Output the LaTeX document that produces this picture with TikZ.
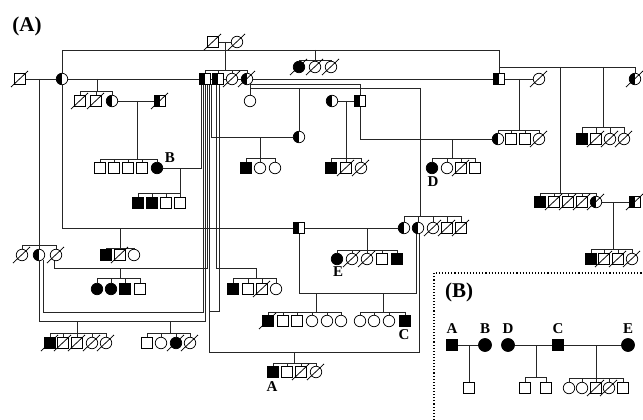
\documentclass[tikz,border=0pt]{standalone}
\usepackage{fontspec}
\setmainfont{Liberation Serif}
\usetikzlibrary{backgrounds}
\tikzset{
  sym/.style={draw=black, line width=0.75pt, fill=white, inner sep=0pt, outer sep=0pt},
  sqw/.style={sym, rectangle, minimum size=10.5pt},
  ciw/.style={sym, circle, minimum size=11.5pt},
  sqf/.style={sqw, fill=black},
  cif/.style={ciw, fill=black},
  sqh/.style={sqw, path picture={\fill[black] (path picture bounding box.south west) rectangle (path picture bounding box.north);}},
  cih/.style={ciw, path picture={\fill[black] (path picture bounding box.south west) rectangle (path picture bounding box.north);}},
  bsq/.style={sqf, minimum size=11pt},
  bci/.style={cif, minimum size=13pt},
  slashln/.style={draw=black, line width=0.75pt},
  lab/.style={font=\bfseries\fontsize{15}{15}\selectfont, inner sep=0pt},
  big/.style={font=\bfseries\fontsize{21}{21}\selectfont, inner sep=0pt},
  conn/.style={draw=black!85, line width=0.8pt}
}
\newcommand\sibs[4]{%
  \draw[conn] (#1,#2) -- (#1,#3);
  \foreach \nn in {#4}{\draw[conn] (\nn.north) -- (\nn.north |- #1,#3) -- (#1,#3);}
}
\begin{document}
\begin{tikzpicture}[x=1pt,y=-1pt]
\useasboundingbox (0,0) rectangle (643,420);
% ---------- nodes ----------
\node[sqw] (tA) at (213,42) {};
\node[ciw] (tB) at (237,42) {};
\node[sqw] (g1) at (20,79) {};
\node[cih] (g2) at (62,79) {};
\node[sqh] (s1) at (205,79) {};
\node[sqh] (s2) at (218,79) {};
\node[ciw] (s3) at (232,79) {};
\node[cih] (s4) at (247,79) {};
\node[sqh] (r1) at (499,79) {};
\node[ciw] (r2) at (539,79) {};
\node[cih] (r3) at (635,79) {};
\node[cif] (k1) at (299,67) {};
\node[ciw] (k2) at (315,67) {};
\node[ciw] (k3) at (331,67) {};
\node[sqw] (c1) at (80,101) {};
\node[sqw] (c2) at (96,101) {};
\node[cih] (c3) at (112,101) {};
\node[sqh] (h1) at (160,101) {};
\node[ciw] (w1) at (250,101) {};
\node[cih] (m1) at (332,101) {};
\node[sqh] (m2) at (360,101) {};
\node[cih] (q1) at (299,137) {};
\node[cih] (r4) at (498,139) {};
\node[sqw] (r5) at (511,139) {};
\node[sqw] (r6) at (525,139) {};
\node[ciw] (r7) at (539,139) {};
\node[sqf] (u1) at (582,139) {};
\node[sqw] (u2) at (596,139) {};
\node[ciw] (u3) at (610,139) {};
\node[ciw] (u4) at (624,139) {};
\node[sqw] (b1) at (100,168) {};
\node[sqw] (b2) at (114,168) {};
\node[sqw] (b3) at (128,168) {};
\node[sqw] (b4) at (142,168) {};
\node[cif] (bB) at (157,168) {};
\node[sqf] (p1) at (246,168) {};
\node[ciw] (p2) at (260,168) {};
\node[ciw] (p3) at (275,168) {};
\node[sqf] (m3) at (331,168) {};
\node[sqw] (m4) at (346,168) {};
\node[ciw] (m5) at (361,168) {};
\node[cif] (d1) at (432,168) {};
\node[ciw] (d2) at (447,168) {};
\node[sqw] (d3) at (461,168) {};
\node[sqw] (d4) at (475,168) {};
\node[sqf] (e1) at (138,203) {};
\node[sqf] (e2) at (152,203) {};
\node[sqw] (e3) at (166,203) {};
\node[sqw] (e4) at (180,203) {};
\node[sqf] (v1) at (540,202) {};
\node[sqw] (v2) at (554,202) {};
\node[sqw] (v3) at (568,202) {};
\node[sqw] (v4) at (582,202) {};
\node[cih] (v5) at (596,202) {};
\node[sqh] (v6) at (635,202) {};
\node[sqh] (H) at (299,228) {};
\node[cih] (z1) at (404,228) {};
\node[cih] (z2) at (418,228) {};
\node[ciw] (z3) at (433,228) {};
\node[sqw] (z4) at (447,228) {};
\node[sqw] (z5) at (461,228) {};
\node[ciw] (f1) at (22,255) {};
\node[cih] (f2) at (39,255) {};
\node[ciw] (f3) at (56,255) {};
\node[sqf] (x1) at (106,255) {};
\node[sqw] (x2) at (120,255) {};
\node[ciw] (x3) at (134,255) {};
\node[cif] (E1) at (337,259) {};
\node[ciw] (E2) at (352,259) {};
\node[ciw] (E3) at (367,259) {};
\node[sqw] (E4) at (382,259) {};
\node[sqf] (E5) at (397,259) {};
\node[sqf] (y1) at (591,259) {};
\node[sqw] (y2) at (604,259) {};
\node[sqw] (y3) at (618,259) {};
\node[ciw] (y4) at (632,259) {};
\node[cif] (i1) at (97,289) {};
\node[cif] (i2) at (111,289) {};
\node[sqf] (i3) at (125,289) {};
\node[sqw] (i4) at (140,289) {};
\node[sqf] (j1) at (233,289) {};
\node[sqw] (j2) at (248,289) {};
\node[sqw] (j3) at (262,289) {};
\node[ciw] (j4) at (276,289) {};
\node[sqf] (a1) at (268,321) {};
\node[sqw] (a2) at (283,321) {};
\node[sqw] (a3) at (297,321) {};
\node[ciw] (a4) at (312,321) {};
\node[ciw] (a5) at (327,321) {};
\node[ciw] (a6) at (341,321) {};
\node[ciw] (cc1) at (360,321) {};
\node[ciw] (cc2) at (374,321) {};
\node[ciw] (cc3) at (389,321) {};
\node[sqf] (cc4) at (405,321) {};
\node[sqf] (l1) at (50,343) {};
\node[sqw] (l2) at (63,343) {};
\node[sqw] (l3) at (77,343) {};
\node[ciw] (l4) at (92,343) {};
\node[ciw] (l5) at (106,343) {};
\node[sqw] (o1) at (147,343) {};
\node[ciw] (o2) at (161,343) {};
\node[cif] (o3) at (176,343) {};
\node[ciw] (o4) at (190,343) {};
\node[sqf] (A1) at (273,372) {};
\node[sqw] (A2) at (287,372) {};
\node[sqw] (A3) at (301,372) {};
\node[ciw] (A4) at (316,372) {};
% panel B
\node[bsq] (PA) at (452,345) {};
\node[bci] (PB) at (485,345) {};
\node[bci] (PD) at (508,345) {};
\node[bsq] (PC) at (558,345) {};
\node[bci] (PE) at (628,345) {};
\node[sqw] (PK) at (469,388) {};
\node[sqw] (PL1) at (525,388) {};
\node[sqw] (PL2) at (546,388) {};
\node[ciw] (PM1) at (569,388) {};
\node[ciw] (PM2) at (582,388) {};
\node[sqw] (PM3) at (596,388) {};
\node[ciw] (PM4) at (609,388) {};
\node[sqw] (PM5) at (623,388) {};
% deceased slashes
\foreach \nn in {tA,tB,g1,s3,s4,r2,r3,k1,k2,k3,c1,c2,h1,r7,u2,u3,u4,m4,m5,d3,v2,v3,v4,v5,v6,z3,z4,z5,f1,f3,x2,E2,E3,y2,y3,y4,j3,a1,l1,l2,l3,l4,l5,o3,o4,A3,A4,PM3,PM4}
  \draw[slashln] ([shift={(-9,8)}]\nn.center) -- ([shift={(8,-8)}]\nn.center);
% labels
\node[big] (LA) at (27,26) {(A)};
\node[big] (LB) at (459,292) {(B)};
\node[lab] (lbB) at (170,158) {B};
\node[lab] (lbD) at (433,182) {D};
\node[lab] (lbE) at (338,272) {E};
\node[lab] (lbC) at (404,335) {C};
\node[lab] (lbA) at (272,387) {A};
\node[lab] (pA) at (452,329) {A};
\node[lab] (pB) at (485,329) {B};
\node[lab] (pD) at (508,329) {D};
\node[lab] (pC) at (558,329) {C};
\node[lab] (pE) at (628,329) {E};
% ---------- connectors ----------
\begin{pgfonlayer}{background}
\fill[white] (0,0) rectangle (643,420);
\draw[conn] (tA) -- (tB);
\sibs{225}{42}{70}{s1,s2,s3,s4}
\draw[conn] (g2.north) -- (62,50) -- (499,50) -- (r1.north);
\sibs{315}{50}{60}{k1,k2,k3}
\draw[conn] (r1.north) -- (499,67) -- (635,67) -- (r3.north);
\draw[conn] (g1) -- (r1);
\draw[conn] (r1) -- (r2);
\sibs{519}{79}{130}{r4,r5,r6,r7}
\sibs{560}{67}{193}{v1,v2,v3,v4,v5}
\sibs{603}{67}{127}{u1,u2,u3,u4}
\sibs{39}{79}{245}{f1,f2,f3}
\sibs{97}{79}{91}{c1,c2,c3}
\draw[conn] (c3) -- (h1);
\sibs{137}{101}{159}{b1,b2,b3,b4,bB}
\draw[conn] (bB) -- (201.5,168) -- (201.5,84);
\sibs{180}{168}{193}{e1,e2,e3,e4}
\draw[conn] (203.5,84) -- (203.5,312) -- (43,312) -- (43,260);
\draw[conn] (205.5,84) -- (205.5,321) -- (39,321) -- (f2.south);
\draw[conn] (207.5,84) -- (207.5,268) -- (54,268) -- (54,260);
\sibs{120}{268}{278}{i1,i2,i3,i4}
\draw[conn] (209.5,84) -- (209.5,352) -- (419,352) -- (419,233);
\draw[conn] (211.5,84) -- (211.5,137) -- (q1);
\draw[conn] (216,84) -- (216,268) -- (256,268);
\sibs{256}{268}{278}{j1,j2,j3,j4}
\draw[conn] (219.5,84) -- (219.5,311) -- (209.5,311);
\sibs{260}{137}{158}{p1,p2,p3}
\draw[conn] (g2) -- (62,228) -- (H);
\sibs{120}{228}{248}{x1,x2,x3}
\draw[conn] (251,84) -- (360,84) -- (m2);
\draw[conn] (250,84) -- (w1);
\draw[conn] (250,88) -- (420,88) -- (420,216);
\draw[conn] (299,88) -- (q1);
\sibs{420}{88}{216}{z1,z2,z3,z4,z5}
\draw[conn] (m1) -- (m2);
\sibs{346}{101}{158}{m3,m4,m5}
\draw[conn] (m2) -- (360,139) -- (r4);
\sibs{452}{139}{158}{d1,d2,d3,d4}
\draw[conn] (H) -- (z1);
\sibs{367}{228}{250}{E1,E2,E3,E4,E5}
\draw[conn] (H) -- (299,293) -- (416,293) -- (416,233);
\sibs{316}{293}{312}{a1,a2,a3,a4,a5,a6}
\sibs{383}{293}{312}{cc1,cc2,cc3,cc4}
\sibs{294}{352}{363}{A1,A2,A3,A4}
\draw[conn] (v5) -- (v6);
\sibs{613}{202}{249}{y1,y2,y3,y4}
\sibs{77}{321}{333}{l1,l2,l3,l4,l5}
\sibs{170}{321}{333}{o1,o2,o3,o4}
% panel B
\draw[black, line width=1.1pt, dotted] (434,420) -- (434,273) -- (643,273);
\draw[conn, line width=0.9pt] (PA) -- (PB);
\draw[conn] (469,345) -- (PK);
\draw[conn, line width=0.9pt] (PD) -- (PE);
\sibs{536}{345}{377}{PL1,PL2}
\sibs{596}{345}{378}{PM1,PM2,PM3,PM4,PM5}
\end{pgfonlayer}
\end{tikzpicture}
\end{document}
